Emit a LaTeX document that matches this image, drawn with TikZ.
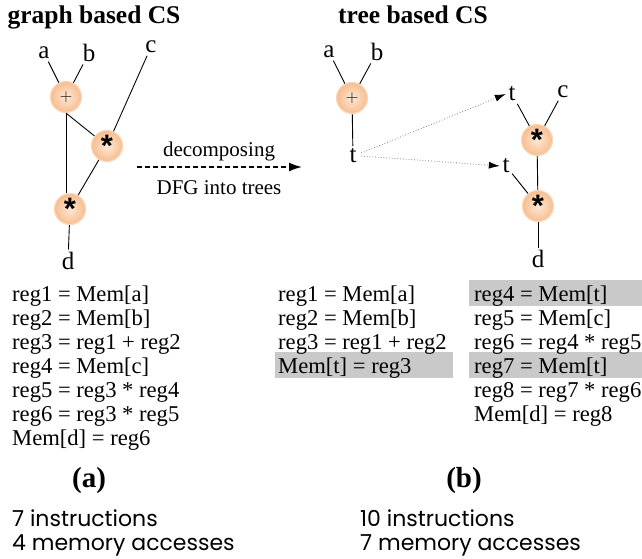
\documentclass[tikz,border=0pt]{standalone}
\usepackage{fontspec}
\setmainfont{Liberation Serif}
\newfontfamily\statfont{Poppins}
\newfontfamily\opfont{Liberation Sans}
\usetikzlibrary{arrows.meta}
\definecolor{opin}{HTML}{FDE8D6}
\definecolor{opout}{HTML}{F7BD8E}
\definecolor{hlgray}{HTML}{C9C9C9}
\tikzset{
  op/.style={circle, minimum size=31pt, inner sep=0pt,
    shading=radial, inner color=opin, outer color=opout,
    draw=opout!60, line width=1.2pt},
  lbl/.style={inner sep=2.5pt, font=\fontsize{25}{26}\selectfont},
  edge/.style={line width=0.9pt},
  code/.style={anchor=base west, inner sep=0pt, font=\fontsize{22.6}{24}\selectfont},
  hl/.style={fill=hlgray, draw=none},
  title/.style={inner sep=0pt, font=\fontsize{25.5}{28}\selectfont\bfseries},
  capt/.style={inner sep=0pt, font=\fontsize{29}{30}\selectfont\bfseries},
  arrlbl/.style={inner sep=0pt, anchor=base, font=\fontsize{21}{24}\selectfont},
  stat/.style={anchor=base west, inner sep=0pt, font=\statfont\fontsize{22}{24}\selectfont},
  tie/.style={gray, line width=0.8pt, dotted, -{Latex[length=11pt,width=7pt,black]}},
}
\newcommand{\plusop}{\fontsize{17}{17}\selectfont$+$}
\newcommand{\starop}{\raisebox{-7pt}{\opfont\bfseries\fontsize{31}{31}\selectfont *}}
\begin{document}
\begin{tikzpicture}[x=1pt,y=-1pt]
\useasboundingbox (0,0) rectangle (642,559);

% highlighted stores/loads of the temporary t
\fill[hlgray] (275,352) rectangle (453,378);
\fill[hlgray] (469,280) rectangle (642,306);
\fill[hlgray] (469,352) rectangle (642,378);

% titles
\node[title, anchor=base] (tg) at (94,24) {graph based CS};
\node[title, anchor=base] (tt) at (413,24) {tree based CS};

% ---- graph based DFG ----
\node[lbl] (ga) at (44,53) {a};
\node[lbl] (gb) at (89,53) {b};
\node[lbl] (gc) at (151,47) {c};
\node[op] (gp) at (66,97) {\plusop};
\node[op] (gm1) at (107,146) {\starop};
\node[op] (gm2) at (70,209) {\starop};
\node[lbl] (gd) at (68,261) {d};
\draw[edge] (ga) -- (gp);
\draw[edge] (gb) -- (gp);
\draw[edge] (gc) -- (gm1);
\draw[edge] (gp.south) coordinate (gps) -- (gm1);
\draw[edge] (gps) -- (gps |- gm2.north);
\draw[edge] (gm1) -- (gm2);
\draw[edge] (gm2) -- (gd);

% ---- decomposition arrow ----
\coordinate (ds) at (137,167);
\coordinate (de) at (302,167);
\draw[line width=1.6pt, dash pattern=on 5pt off 3pt, -{Latex[length=13pt,width=9pt]}] (ds) -- (de);
\node[arrlbl] (dl1) at (219,157) {decomposing};
\node[arrlbl] (dl2) at (219,194) {DFG into trees};

% ---- tree based: first tree ----
\node[lbl] (ta) at (329,52) {a};
\node[lbl] (tb) at (377,52) {b};
\node[op] (tp) at (352,98) {\plusop};
\node[lbl] (tt1) at (353,156) {t};
\draw[edge] (ta) -- (tp);
\draw[edge] (tb) -- (tp);
\draw[edge] (tp) -- (tt1);

% ---- tree based: second tree ----
\node[lbl] (tt2) at (512,94) {t};
\node[lbl] (tc) at (563,92) {c};
\node[op] (tm1) at (537,140) {\starop};
\node[lbl] (tt3) at (506,166) {t};
\node[op] (tm2) at (538,206) {\starop};
\node[lbl] (td) at (538,259) {d};
\draw[edge] (tt2) -- (tm1);
\draw[edge] (tc) -- (tm1);
\draw[edge] (tm1) -- (tm2);
\draw[edge] (tt3) -- (tm2);
\draw[edge] (tm2) -- (td);

% temporary t feeds both uses
\draw[tie] (tt1.east) ++(2,-3) coordinate (tto) -- (tt2.west);
\draw[tie] (tt1.east) ++(2,0) coordinate (tto2) -- (tt3.west);

% ---- generated code ----
\node[code] (l1) at (12,301) {reg1 = Mem[a]};
\node[code] (l2) at (12,325) {reg2 = Mem[b]};
\node[code] (l3) at (12,349) {reg3 = reg1 + reg2};
\node[code] (l4) at (12,373) {reg4 = Mem[c]};
\node[code] (l5) at (12,397) {reg5 = reg3 * reg4};
\node[code] (l6) at (12,421) {reg6 = reg3 * reg5};
\node[code] (l7) at (12,445) {Mem[d] = reg6};

\node[code] (m1) at (278,301) {reg1 = Mem[a]};
\node[code] (m2) at (278,325) {reg2 = Mem[b]};
\node[code] (m3) at (278,349) {reg3 = reg1 + reg2};
\node[code] (m4) at (278,373) {Mem[t] = reg3};

\node[code] (r1) at (474,301) {reg4 = Mem[t]};
\node[code] (r2) at (474,325) {reg5 = Mem[c]};
\node[code] (r3) at (474,349) {reg6 = reg4 * reg5};
\node[code] (r4) at (474,373) {reg7 = Mem[t]};
\node[code] (r5) at (474,397) {reg8 = reg7 * reg6};
\node[code] (r6) at (474,421) {Mem[d] = reg8};

% ---- captions ----
\node[capt, anchor=base] (ca) at (89,487) {(a)};
\node[capt, anchor=base] (cb) at (464,487) {(b)};

\node[stat] (s1) at (12,526) {7 instructions};
\node[stat] (s2) at (12,550) {4 memory accesses};
\node[stat] (s3) at (360,526) {10 instructions};
\node[stat] (s4) at (360,550) {7 memory accesses};
\end{tikzpicture}
\end{document}
